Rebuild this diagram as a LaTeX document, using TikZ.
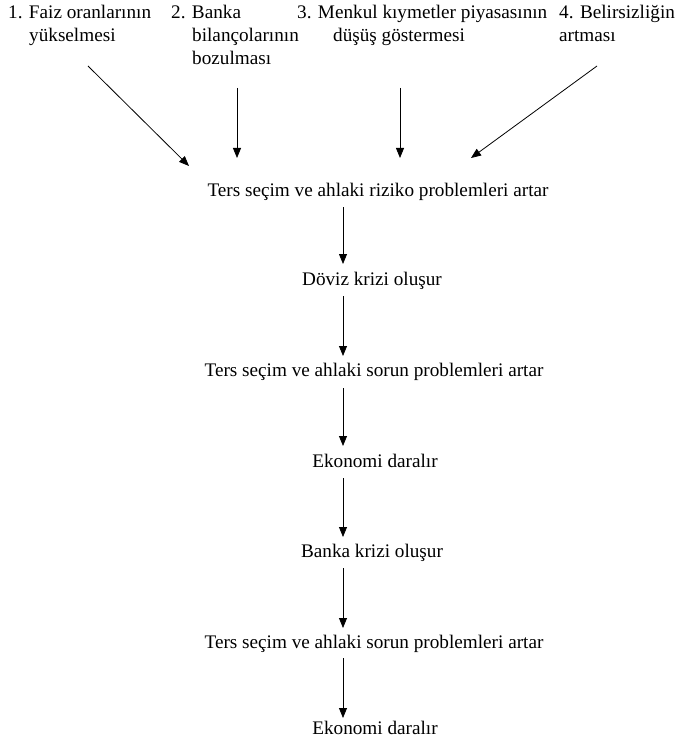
\documentclass[tikz,border=0pt]{standalone}
\usepackage{fontspec}
\setmainfont{Liberation Serif}
\usetikzlibrary{arrows.meta}
\begin{document}
\begin{tikzpicture}[x=1pt,y=-1pt,
  txt/.style={inner sep=0pt,font=\fontsize{19.2}{23}\selectfont},
  lbl/.style={txt,anchor=base west,align=left},
  mid/.style={txt,anchor=base},
  arr/.style={line width=0.8pt,-{Triangle[length=10pt,width=8pt]}}]
\useasboundingbox (0,0) rectangle (679,738);
% top labels (anchor at the baseline of the last line)
\node[lbl] (l1) at (8,42) {1. Faiz oranlarının\\\hspace*{21pt}yükselmesi};
\node[lbl] (l2) at (171,65) {2. Banka\\\hspace*{21pt}bilançolarının\\\hspace*{21pt}bozulması};
\node[lbl] (l3) at (297,42) {3. Menkul kıymetler piyasasının\\\hspace*{36pt}düşüş göstermesi};
\node[lbl] (l4) at (559,42) {4. Belirsizliğin\\artması};
% chain
\node[mid] (t1) at (378,196) {Ters seçim ve ahlaki riziko problemleri artar};
\node[mid] (t2) at (372,285) {Döviz krizi oluşur};
\node[mid] (t3) at (374,376) {Ters seçim ve ahlaki sorun problemleri artar};
\node[mid] (t4) at (375,467) {Ekonomi daralır};
\node[mid] (t5) at (372,557) {Banka krizi oluşur};
\node[mid] (t6) at (374,648) {Ters seçim ve ahlaki sorun problemleri artar};
\node[mid] (t7) at (375,734) {Ekonomi daralır};
% arrow end points
\coordinate (a1s) at (88,66);  \coordinate (a1e) at (189,166);
\coordinate (a2s) at (237,88); \coordinate (a2e) at (237,158);
\coordinate (a3s) at (400,88); \coordinate (a3e) at (400,158);
\coordinate (a4s) at (597,66); \coordinate (a4e) at (471,158);
\draw[arr] (a1s) -- (a1e);
\draw[arr] (a2s) -- (a2e);
\draw[arr] (a3s) -- (a3e);
\draw[arr] (a4s) -- (a4e);
\foreach \a/\b/\ya/\yb in {t1/t2/207/264, t2/t3/296/356, t3/t4/388/446, t4/t5/478/537, t5/t6/568/628, t6/t7/658/718}{
  \coordinate (\a s) at (343,\ya);
  \coordinate (\b e) at (343,\yb);
  \draw[arr] (\a s) -- (\b e);
}
\end{tikzpicture}
\end{document}
